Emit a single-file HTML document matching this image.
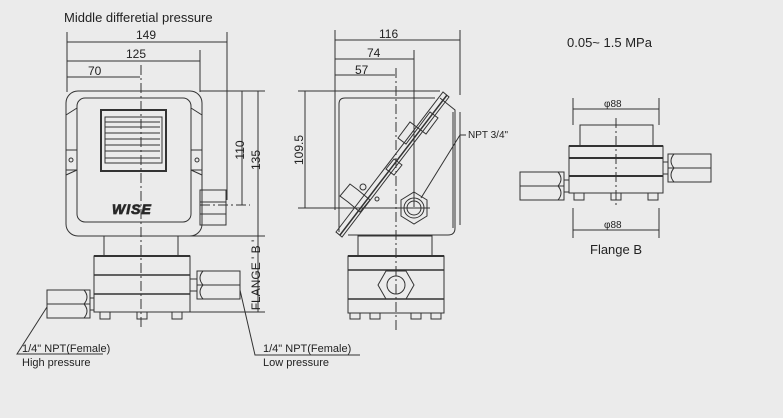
<!DOCTYPE html>
<html><head><meta charset="utf-8"><style>
html,body{margin:0;padding:0;background:#ebebeb;}
svg{display:block;}
text{font-family:"Liberation Sans",sans-serif;fill:#222;}
</style></head><body>
<svg width="783" height="418" viewBox="0 0 783 418" xmlns="http://www.w3.org/2000/svg">
<rect width="783" height="418" fill="#ebebeb"/>
<g stroke="#333" stroke-width="1" fill="none">
<line x1="67" y1="32" x2="67" y2="92"/>
<line x1="227" y1="32" x2="227" y2="200"/>
<line x1="200" y1="50" x2="200" y2="92"/>
<line x1="67" y1="42" x2="227" y2="42"/>
<line x1="67" y1="61" x2="200" y2="61"/>
<line x1="67" y1="77" x2="140" y2="77"/>
<line x1="141" y1="65" x2="141" y2="330" stroke-dasharray="10,3,2,3"/>
<line x1="200" y1="91" x2="265" y2="91"/>
<line x1="242" y1="91" x2="242" y2="205"/>
<line x1="258" y1="91" x2="258" y2="312"/>
<line x1="200" y1="205" x2="250" y2="205" stroke-dasharray="10,3,2,3"/>
<line x1="190" y1="312" x2="265" y2="312"/>
<line x1="180" y1="236" x2="265" y2="236"/>
<rect x="66" y="91" width="136" height="145" rx="12"/>
<rect x="77" y="98" width="114" height="124" rx="8"/>
<line x1="66" y1="115" x2="77" y2="108"/><line x1="202" y1="115" x2="191" y2="108"/>
<line x1="66" y1="175" x2="77" y2="170"/><line x1="202" y1="175" x2="191" y2="170"/>
<line x1="66" y1="150" x2="77" y2="150"/><line x1="202" y1="150" x2="191" y2="150"/>
<line x1="66" y1="170" x2="77" y2="170"/><line x1="202" y1="170" x2="191" y2="170"/>
<circle cx="71" cy="160" r="2"/><circle cx="197" cy="160" r="2"/>
<rect x="101" y="110" width="65" height="61" stroke-width="2"/>
<rect x="105" y="117" width="57" height="46"/>
<line x1="105" y1="122" x2="160" y2="122"/><line x1="105" y1="127" x2="160" y2="127"/>
<line x1="105" y1="133" x2="160" y2="133"/><line x1="105" y1="139" x2="160" y2="139"/>
<line x1="105" y1="145" x2="160" y2="145"/><line x1="105" y1="151" x2="160" y2="151"/>
<line x1="105" y1="158" x2="160" y2="158"/>
<rect x="200" y="190" width="26" height="35"/>
<line x1="200" y1="202" x2="226" y2="202"/><line x1="200" y1="214" x2="226" y2="214"/>
<rect x="104" y="236" width="74" height="20"/>
<rect x="94" y="256" width="96" height="56"/>
<line x1="94" y1="256" x2="190" y2="256" stroke-width="2"/>
<line x1="94" y1="275" x2="190" y2="275" stroke-width="1.5"/>
<line x1="94" y1="294" x2="190" y2="294" stroke-width="1.5"/>
<rect x="100" y="312" width="10" height="7"/><rect x="137" y="312" width="10" height="7"/><rect x="172" y="312" width="10" height="7"/>
<rect x="47" y="290" width="43" height="28"/><line x1="47" y1="304" x2="90" y2="304"/>
<path d="M84 290 q6 7 0 14 q6 7 0 14"/><rect x="90" y="298" width="4" height="12"/>
<rect x="197" y="271" width="43" height="28"/><line x1="197" y1="285" x2="240" y2="285"/>
<path d="M203 271 q-6 7 0 14 q-6 7 0 14"/><rect x="190" y="279" width="7" height="12"/>
<polyline points="47,307 17,354 103,354"/>
<polyline points="240,290 255,355 360,355"/>
<line x1="335" y1="30" x2="335" y2="210"/>
<line x1="460" y1="30" x2="460" y2="95"/>
<line x1="414" y1="50" x2="414" y2="207"/>
<line x1="335" y1="40" x2="460" y2="40"/>
<line x1="335" y1="59" x2="414" y2="59"/>
<line x1="335" y1="75" x2="395" y2="75"/>
<line x1="396" y1="68" x2="396" y2="330" stroke-dasharray="10,3,2,3"/>
<line x1="298" y1="91" x2="440" y2="91"/>
<line x1="298" y1="208" x2="430" y2="208"/>
<line x1="305" y1="91" x2="305" y2="208"/>
<path d="M339 232 V104 q0-6 6-6 H435"/>
<path d="M440 98 L455 110 V228 q0 7 -7 7 H348"/>
<line x1="453" y1="112" x2="453" y2="228"/><line x1="460" y1="112" x2="460" y2="225"/>
<path d="M336 232 L443 92 L449 97 L342 237 Z"/>
<line x1="340" y1="235" x2="447" y2="95" stroke-width="1.5"/>
<path d="M398 138 l12 -16 l8 6 l12 -16 l8 6 l-12 16 l-8 -6 l-12 16 z"/>
<path d="M358 190 l-8 -6 l-10 12 l8 6 l12 10 l10 -12 z"/>
<path d="M402 165 l-8 -6 l-8 10 l8 6 z"/>
<circle cx="363" cy="187" r="3"/><circle cx="377" cy="199" r="2"/>
<path d="M414 192 l13 8 v16 l-13 8 l-13 -8 v-16 z"/>
<circle cx="414" cy="208" r="10"/><circle cx="414" cy="208" r="7"/>
<polyline points="421,198 460,135 466,135"/>
<rect x="358" y="236" width="74" height="20"/>
<rect x="348" y="256" width="96" height="57"/>
<line x1="348" y1="256" x2="444" y2="256" stroke-width="2"/>
<line x1="348" y1="270" x2="444" y2="270" stroke-width="1.5"/>
<line x1="348" y1="299" x2="444" y2="299" stroke-width="1.5"/>
<path d="M386 271 h20 l8 14 l-8 14 h-20 l-8 -14 z"/>
<circle cx="396" cy="285" r="9"/>
<rect x="350" y="313" width="10" height="6"/><rect x="370" y="313" width="10" height="6"/><rect x="411" y="313" width="10" height="6"/><rect x="431" y="313" width="10" height="6"/>
<line x1="573" y1="98" x2="573" y2="125"/><line x1="659" y1="98" x2="659" y2="125"/>
<line x1="573" y1="109" x2="659" y2="109"/>
<line x1="616" y1="118" x2="616" y2="205" stroke-dasharray="10,3,2,3"/>
<rect x="580" y="125" width="73" height="21"/>
<rect x="569" y="146" width="94" height="47"/>
<line x1="569" y1="146" x2="663" y2="146" stroke-width="2"/>
<line x1="569" y1="158" x2="663" y2="158" stroke-width="2"/>
<line x1="569" y1="176" x2="663" y2="176" stroke-width="2"/>
<rect x="574" y="193" width="10" height="7"/><rect x="611" y="193" width="10" height="7"/><rect x="648" y="193" width="10" height="7"/>
<rect x="668" y="154" width="43" height="28"/><line x1="668" y1="168" x2="711" y2="168"/>
<path d="M674 154 q-6 7 0 14 q-6 7 0 14"/><rect x="663" y="162" width="5" height="12"/>
<rect x="520" y="172" width="44" height="28"/><line x1="520" y1="186" x2="564" y2="186"/>
<path d="M558 172 q6 7 0 14 q6 7 0 14"/><rect x="564" y="180" width="5" height="12"/>
<line x1="573" y1="208" x2="573" y2="238"/><line x1="659" y1="208" x2="659" y2="238"/>
<line x1="573" y1="230" x2="659" y2="230"/>
</g>
<g font-size="13">
<text x="64" y="22">Middle differetial pressure</text>
<text x="567" y="47">0.05~ 1.5 MPa</text>
<text x="590" y="254">Flange B</text>
</g>
<g font-size="12">
<text x="136" y="39">149</text><text x="126" y="58">125</text><text x="88" y="75">70</text>
<text x="379" y="38">116</text><text x="367" y="57">74</text><text x="355" y="74">57</text>
<text transform="translate(244,150) rotate(-90)" text-anchor="middle">110</text>
<text transform="translate(260,160) rotate(-90)" text-anchor="middle">135</text>
<text transform="translate(303,150) rotate(-90)" text-anchor="middle">109.5</text>
<text transform="translate(260,275) rotate(-90)" text-anchor="middle">FLANGE ' B '</text>
<text x="22" y="352" font-size="11">1/4" NPT(Female)</text>
<text x="22" y="366" font-size="11">High pressure</text>
<text x="263" y="352" font-size="11">1/4" NPT(Female)</text>
<text x="263" y="366" font-size="11">Low pressure</text>
<text x="468" y="138" font-size="10">NPT 3/4"</text>
<text x="604" y="107" font-size="10">φ88</text>
<text x="604" y="228" font-size="10">φ88</text>
</g>
<text x="112" y="214" font-size="14" font-style="italic" font-weight="bold" fill="#ddd" stroke="#333" stroke-width="0.8" letter-spacing="1">WISE</text>
</svg>
</body></html>
